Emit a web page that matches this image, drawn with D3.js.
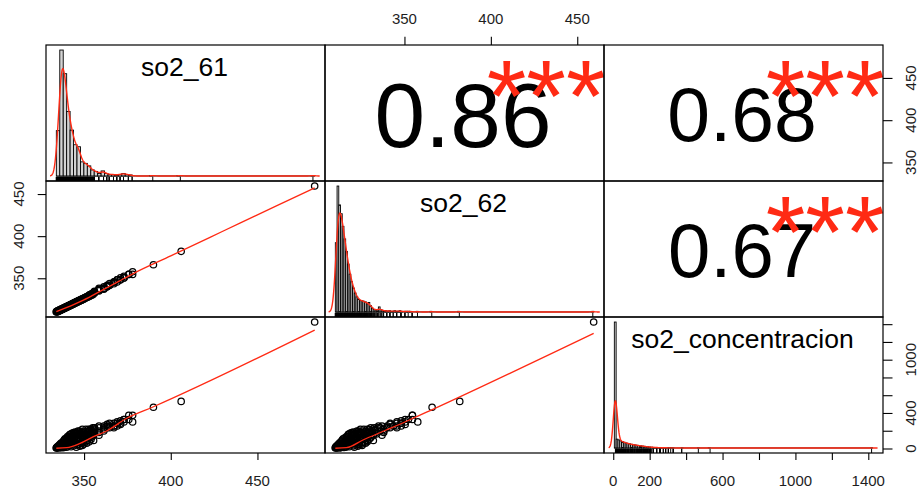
<!DOCTYPE html>
<html><head><meta charset="utf-8">
<script src="https://cdn.jsdelivr.net/npm/d3@7"></script>
<style>
html,body{margin:0;padding:0;background:#fff}
svg{display:block}
text{font-family:"Liberation Sans",Arial,Helvetica,sans-serif}
</style>
</head><body>
<svg id="c" width="918" height="489"></svg>
<script>
// ================= DATA =================
const variables = ["so2_61", "so2_62", "so2_concentracion"];
const corr_61_62 = 0.86, corr_61_conc = 0.68, corr_62_conc = 0.67;
const signifStars = "***";

// observations (parallel arrays)
const so2_61 = [334,334,334.5,334.5,335,335,335.5,335.5,336,336,336.5,336.5,337,337,337.5,337.5,338,338,338.5,338.5,339,339,339.5,339.5,340,340,340.5,340.5,341,341,341.5,341.5,342,342,342.5,342.5,343,343,343.5,343.5,344,344,344.5,344.5,345,345,345.5,345.5,346,346,346.5,346.5,347,347,347.5,347.5,348,348,348.5,348.5,349,349,349.5,349.5,350,350,350.5,351,351,351.5,352,352,352.5,353,353,353.5,354,354,354.5,355,355,355.5,356,356,358.6,358.6,361.4,361.4,363.3,363.3,364.7,367.2,367.2,369.1,371,371,373,373,375.8,378,390,406,483,
  334.5,335,335.5,336,336.5,337,337.5,338,338.5,339,339.5,340,340.5,341,341.5,342,342.5,343,343.5,344,344.5,345,345.5,346,346.5,347,347.5,348,348.5,349,349.5,350,350.5,351,351.5,352,352.5,353,353.5,354,354.5,355,355.5,356,356,356,358.6,358.6,358.6,361.4,361.4,363.3,364.7,364.7,367.2,367.2,369.1,369.1,371,373,375.8,378];
const so2_62 = [310,310.5,311,310,311,311.5,312,311,312,312.5,313,312,313,313.5,314,313,314,314.5,315,314.5,315,315.5,316,315,316,316.5,317,316,317,317.5,318,317,318,318.5,319,318,319,319.5,320,319,320,320.5,321,320,321,321.5,322,321,322,322.5,323,322,323,323.5,324,323,324,324.5,325,324,325,325.5,326,325,326,326.5,327,327,327.5,328,328,328.5,329,329,330,330.5,330,331,331.5,332,331,333,333,334,336,338,338,339.8,340,341.7,343.6,345.6,345.6,348.1,350.4,348.1,352.3,350.4,354.6,357.7,366,382,459.5,
  310.5,310.5,311.5,311.5,312.5,312.5,313.5,313.5,314,314.5,315.5,315.5,316.5,316.5,317.5,317.5,318.5,318.5,319.5,319.5,320.5,320.5,321.5,321.5,322.5,322.5,323.5,323.5,324.5,324.5,325.5,325.5,326.5,326.5,327.5,327.5,328.5,328.5,329.5,329.5,330.5,330.5,332,332.5,333,334.5,335,336,337,338,337,339.8,341.7,341.7,343.6,345.6,345.6,348.1,348.1,350.4,354.6,354.6];
const so2_conc = [6,8,7,10,9,14,8,20,12,25,10,32,16,40,22,8,30,52,12,45,60,25,72,38,15,85,50,100,28,110,65,125,40,90,135,20,75,145,55,110,150,30,95,125,160,60,140,15,105,170,45,130,155,80,175,25,120,165,60,145,180,35,100,160,130,185,70,150,190,110,170,90,185,140,195,120,175,160,200,150,185,175,205,165,197,180,216,234,253,271,253,234,284,284,271,312,326,299,373,299,465,530,1424,
  18,25,35,45,55,65,50,80,95,110,90,120,135,80,150,160,60,170,90,180,165,185,100,40,197,120,197,40,185,216,70,50,160,216,60,130,216,75,216,100,130,234,90,234,216,234,253,234,150,197,253,234,284,234,253,253,299,253,284,326,326,373];

// histograms (right-closed bins): first break, bin width, counts, isolated values
const histStart = [334, 310, 0];
const histWidth = [2, 1, 10];
const hist61Counts = [90,250,203,128,91,62,58,28,25,20,12,9,5,10,5,3,3,2,3,5,3,2];
const hist62Counts = [110,200,170,156,136,116,96,76,60,48,38,30,24,20,18,18,17,16,13,15,10,6,4,2,2,8,4,2,1,2,1,2,1,1,2,1,1,2,1,0,1,1,1,1];
const histConcCounts = [1000,70,64,56,50,45,40,36,32,29,26,24,21,19,17,15,13,11,9,7,6,5,4,3,3,2,2,2,1,1,1,1,1];
const hist61Outliers = [390, 406, 483];
const hist62Outliers = [357.7, 366, 382, 459.5];
const histConcOutliers = [373, 465, 530, 1424];
const densityBandwidth = [1.3, 1.35, 11];

// lowess smooth lines
const smooth62on61_x = [334, 342, 349.6, 360, 370, 378.4, 400, 430, 460, 483];
const smooth62on61_y = [310.5, 317, 324, 335.3, 346.3, 355.6, 376.6, 405.8, 435, 457.3];
const smoothConcOn61_x = [334, 340, 347.7, 355.4, 363, 374.6, 390, 483];
const smoothConcOn61_y = [3, 9, 58, 133, 197, 340, 470, 1334];
const smoothConcOn62_x = [310, 316.4, 326, 339.5, 352.9, 366.4, 459.5];
const smoothConcOn62_y = [3, 9, 96, 208, 321, 441, 1297];

// axis ticks / labels
const ticks61 = [350, 400, 450];
const ticks62 = [350, 400, 450];
const ticksConc = [0, 200, 400, 600, 800, 1000, 1200, 1400];
const labelsConcBottom = [0, 200, 600, 1000, 1400];
const labelsConcRight = [0, 400, 1000];

// ================= LAYOUT =================
const colEdges = [46, 325, 604, 883];
const rowEdges = [45, 181, 317, 453];
const RED = "#ff2a14";
const svg = d3.select("#c");

const series = [so2_61, so2_62, so2_conc];
function padded(a, b) { const e = (b - a) * 0.04; return [a - e, b + e]; }
const xS = series.map((d, i) => d3.scaleLinear().domain(padded(...d3.extent(d))).range([colEdges[i], colEdges[i + 1]]));
const yS = series.map((d, i) => d3.scaleLinear().domain(padded(...d3.extent(d))).range([rowEdges[i + 1], rowEdges[i]]));

// clip paths
const defs = svg.append("defs");
for (let r = 0; r < 3; r++) for (let c = 0; c < 3; c++) {
  defs.append("clipPath").attr("id", `cp${r}${c}`).append("rect")
    .attr("x", colEdges[c]).attr("y", rowEdges[r])
    .attr("width", colEdges[c + 1] - colEdges[c]).attr("height", rowEdges[r + 1] - rowEdges[r]);
}

// ================= DIAGONAL: histograms =================
const histCounts = [hist61Counts, hist62Counts, histConcCounts];
const histOutliers = [hist61Outliers, hist62Outliers, histConcOutliers];

for (let i = 0; i < 3; i++) {
  const start = histStart[i], w = histWidth[i];
  const vmax = d3.max(series[i]);
  const nb = Math.ceil((vmax - start) / w);
  const counts = new Array(nb).fill(0);
  histCounts[i].forEach((c, k) => counts[k] += c);
  histOutliers[i].forEach(v => { const k = Math.max(0, Math.ceil((v - start) / w) - 1); counts[k] += 1; });
  const N = d3.sum(counts);
  const bins = counts.map((c, k) => ({ x0: start + k * w, x1: start + (k + 1) * w, d: c / (N * w) }));
  const end = start + nb * w;
  const hx = d3.scaleLinear().domain(padded(start, end)).range([colEdges[i], colEdges[i + 1]]);
  const dmax = d3.max(bins, b => b.d);
  const hy = d3.scaleLinear().domain(padded(0, dmax)).range([rowEdges[i + 1], rowEdges[i]]);

  const g = svg.append("g").attr("clip-path", `url(#cp${i}${i})`);
  g.append("line").attr("x1", hx(start)).attr("x2", hx(end)).attr("y1", hy(0)).attr("y2", hy(0))
    .attr("stroke", "#000").attr("stroke-width", 1);
  g.selectAll("rect.bar").data(bins.filter(b => b.d > 0)).join("rect").attr("class", "bar")
    .attr("x", b => hx(b.x0)).attr("width", b => hx(b.x1) - hx(b.x0))
    .attr("y", b => hy(b.d)).attr("height", b => hy(0) - hy(b.d))
    .attr("fill", "#d3d3d3").attr("stroke", "#000").attr("stroke-width", 0.9);

  // kernel density of the binned data
  const bw = densityBandwidth[i];
  const pts = [];
  histCounts[i].forEach((c, k) => { if (c > 0) for (let s = 0; s < 4; s++) pts.push([start + (k + (s + 0.5) / 4) * w, c / 4]); });
  histOutliers[i].forEach(v => pts.push([v, 1]));
  const Nw = d3.sum(pts, p => p[1]);
  const lo = d3.min(pts, p => p[0]) - 3 * bw, hi = d3.max(pts, p => p[0]) + 3 * bw;
  const dens = [];
  const n = 700;
  for (let j = 0; j < n; j++) {
    const x = lo + (hi - lo) * j / (n - 1);
    let s = 0;
    for (const [v, wt] of pts) { const u = (x - v) / bw; if (u > -7 && u < 7) s += wt * Math.exp(-0.5 * u * u); }
    dens.push([x, s / (Nw * bw * Math.sqrt(2 * Math.PI))]);
  }
  g.append("path").attr("d", d3.line().x(d => hx(d[0])).y(d => hy(d[1]))(dens))
    .attr("fill", "none").attr("stroke", RED).attr("stroke-width", 1.4);

  // rug
  const rb = rowEdges[i + 1], rl = (rowEdges[i + 1] - rowEdges[i]) * 0.03;
  g.selectAll("line.rug").data(series[i]).join("line").attr("class", "rug")
    .attr("x1", v => hx(v)).attr("x2", v => hx(v)).attr("y1", rb).attr("y2", rb - rl)
    .attr("stroke", "#000").attr("stroke-width", 1);

  svg.append("text").attr("x", (colEdges[i] + colEdges[i + 1]) / 2 - 1).attr("y", rowEdges[i] + 30.5)
    .attr("text-anchor", "middle").attr("font-size", 26.5).attr("fill", "#000").text(variables[i]);
}

// ================= LOWER: scatter + smooth =================
const smooths = {
  "1,0": [smooth62on61_x, smooth62on61_y],
  "2,0": [smoothConcOn61_x, smoothConcOn61_y],
  "2,1": [smoothConcOn62_x, smoothConcOn62_y]
};
for (const key of Object.keys(smooths)) {
  const [r, c] = key.split(",").map(Number);
  const g = svg.append("g").attr("clip-path", `url(#cp${r}${c})`);
  const xs = series[c], ys = series[r];
  g.selectAll("circle").data(d3.range(xs.length)).join("circle")
    .attr("cx", k => xS[c](xs[k])).attr("cy", k => yS[r](ys[k])).attr("r", 3.2)
    .attr("fill", "none").attr("stroke", "#000").attr("stroke-width", 1.25);
  const [sx, sy] = smooths[key];
  g.append("path").attr("d", d3.line().curve(d3.curveMonotoneX).x((d, k) => xS[c](sx[k])).y((d, k) => yS[r](sy[k]))(sx))
    .attr("fill", "none").attr("stroke", RED).attr("stroke-width", 1.3);
}

// ================= UPPER: correlations =================
const upper = [[0, 1, corr_61_62], [0, 2, corr_61_conc], [1, 2, corr_62_conc]];
const baseSize = 102;
for (const [r, c, v] of upper) {
  const x0 = colEdges[c], x1 = colEdges[c + 1], y0 = rowEdges[r], y1 = rowEdges[r + 1];
  const fs = baseSize * (Math.abs(v) + 0.3) / 1.3;
  svg.append("text").attr("x", (x0 + x1) / 2 - 1.5).attr("y", (y0 + y1) / 2 + 0.37 * fs)
    .attr("text-anchor", "middle").attr("font-size", fs).attr("fill", "#000").text(v.toFixed(2));
  svg.append("text").attr("x", x0 + 0.8 * (x1 - x0) - 2).attr("y", y1 - 0.8 * (y1 - y0) + 0.58 * baseSize)
    .attr("text-anchor", "middle").attr("font-size", baseSize).attr("fill", RED).text(signifStars);
}

// ================= panel borders =================
for (let r = 0; r < 3; r++) for (let c = 0; c < 3; c++) {
  svg.append("rect").attr("x", colEdges[c]).attr("y", rowEdges[r])
    .attr("width", colEdges[c + 1] - colEdges[c]).attr("height", rowEdges[r + 1] - rowEdges[r])
    .attr("fill", "none").attr("stroke", "#000").attr("stroke-width", 1.2);
}

// ================= axes =================
const TXT = "#1e1e1e";
function tickAxis(axis, tx, ty) {
  const g = svg.append("g").attr("transform", `translate(${tx},${ty})`).call(axis);
  g.select(".domain").remove();
  g.selectAll(".tick line").attr("stroke", "#000").attr("stroke-width", 1.1);
  g.selectAll(".tick text").remove();
  return g;
}
tickAxis(d3.axisTop(xS[1]).tickValues(ticks62).tickSize(8.3), 0, rowEdges[0]);
svg.selectAll(null).data(ticks62).join("text").attr("x", d => xS[1](d)).attr("y", 24)
  .attr("text-anchor", "middle").attr("font-size", 15).attr("fill", TXT).text(d => d);
tickAxis(d3.axisBottom(xS[0]).tickValues(ticks61).tickSize(7), 0, rowEdges[3]);
svg.selectAll(null).data(ticks61).join("text").attr("x", d => xS[0](d)).attr("y", 486)
  .attr("text-anchor", "middle").attr("font-size", 15).attr("fill", TXT).text(d => d);
tickAxis(d3.axisBottom(xS[2]).tickValues(ticksConc).tickSize(7), 0, rowEdges[3]);
svg.selectAll(null).data(labelsConcBottom).join("text").attr("x", d => xS[2](d)).attr("y", 486)
  .attr("text-anchor", "middle").attr("font-size", 15).attr("fill", TXT).text(d => d);
tickAxis(d3.axisLeft(yS[1]).tickValues(ticks62).tickSize(8.3), colEdges[0], 0);
svg.selectAll(null).data(ticks62).join("text")
  .attr("transform", d => `translate(23.5,${yS[1](d)}) rotate(-90)`)
  .attr("text-anchor", "middle").attr("font-size", 15).attr("fill", TXT).text(d => d);
tickAxis(d3.axisRight(yS[0]).tickValues(ticks61).tickSize(9.5), colEdges[3], 0);
svg.selectAll(null).data(ticks61).join("text")
  .attr("transform", d => `translate(915.5,${yS[0](d)}) rotate(-90)`)
  .attr("text-anchor", "middle").attr("font-size", 15).attr("fill", TXT).text(d => d);
tickAxis(d3.axisRight(yS[2]).tickValues(ticksConc).tickSize(9.5), colEdges[3], 0);
svg.selectAll(null).data(labelsConcRight).join("text")
  .attr("transform", d => `translate(915.5,${yS[2](d)}) rotate(-90)`)
  .attr("text-anchor", "middle").attr("font-size", 15).attr("fill", TXT).text(d => d);
</script>
</body></html>
